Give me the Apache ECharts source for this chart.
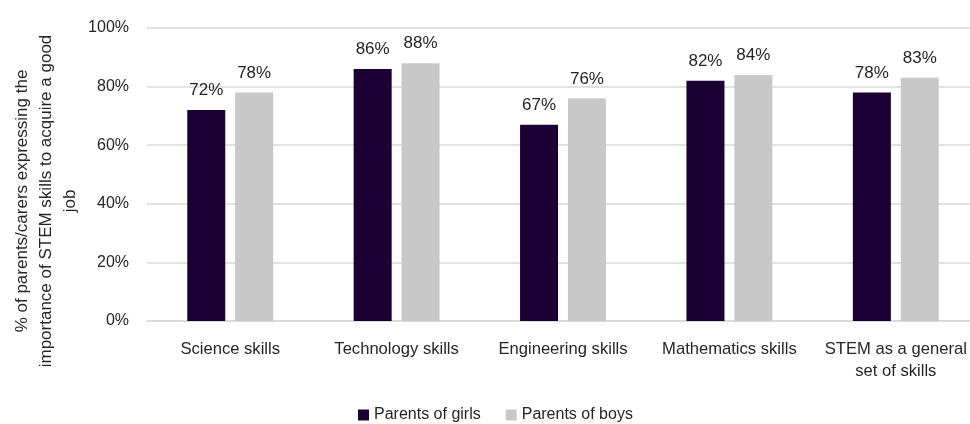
<!DOCTYPE html>
<html>
<head>
<meta charset="utf-8">
<script src="https://cdn.jsdelivr.net/npm/echarts@6/dist/echarts.min.js"></script>
<style>
  html, body { margin: 0; padding: 0; background: #ffffff; overflow: hidden; }
  #wrap { width: 970px; height: 424px; overflow: hidden; }
  /* plot runs slightly past the right edge of the view */
  #chart { width: 980px; height: 424px; }
</style>
</head>
<body>
<div id="wrap"><div id="chart"></div></div>
<script>
// Share of parents/carers who say each STEM skill matters for getting a good job
const categories = ['Science skills', 'Technology skills', 'Engineering skills', 'Mathematics skills', 'STEM as a general\nset of skills'];
const girlsValues = [72, 86, 67, 82, 78];
const boysValues = [78, 88, 76, 84, 83];
const seriesNames = ['Parents of girls', 'Parents of boys'];
const yTicks = [0, 20, 40, 60, 80, 100];
const yTitle = '% of parents/carers expressing the\nimportance of STEM skills to acquire a good\njob';

const FONT = "'Liberation Sans', Arial, sans-serif";
const TEXT = '#262626';

const chart = echarts.init(document.getElementById('chart'), null, { renderer: 'canvas' });

const labelStyle = {
  show: true,
  position: 'top',
  distance: 11,
  formatter: p => p.value + '%',
  color: TEXT,
  fontFamily: FONT,
  fontSize: 17
};

chart.setOption({
  animation: false,
  backgroundColor: '#ffffff',
  grid: { left: 147, top: 28, width: 832, height: 293, containLabel: false },
  legend: {
    data: seriesNames,
    top: 402,
    left: 353,
    itemWidth: 11,
    itemHeight: 11,
    itemGap: 25,
    icon: 'rect',
    textStyle: { color: TEXT, fontFamily: FONT, fontSize: 16 }
  },
  xAxis: {
    type: 'category',
    data: categories,
    axisLine: { show: true, lineStyle: { color: '#d9d9d9', width: 1.5 } },
    axisTick: { show: false },
    axisLabel: {
      color: TEXT,
      fontFamily: FONT,
      fontSize: 16.6,
      margin: 17,
      lineHeight: 22,
      interval: 0
    }
  },
  yAxis: {
    type: 'value',
    min: yTicks[0],
    max: yTicks[yTicks.length - 1],
    interval: 20,
    axisLine: { show: false },
    axisTick: { show: false },
    splitLine: { lineStyle: { color: '#d9d9d9', width: 1.5 } },
    axisLabel: {
      color: TEXT,
      fontFamily: FONT,
      fontSize: 16,
      margin: 18,
      formatter: v => v + '%'
    }
  },
  graphic: [{
    type: 'text',
    x: 46,
    y: 201,
    rotation: Math.PI / 2,
    style: {
      x: 0,
      y: 0,
      text: yTitle,
      fill: TEXT,
      fontFamily: FONT,
      fontSize: 17,
      lineHeight: 24,
      align: 'center',
      verticalAlign: 'middle'
    }
  }],
  series: [
    {
      name: seriesNames[0],
      type: 'bar',
      data: girlsValues,
      barWidth: 38,
      barGap: '26%',
      itemStyle: { color: '#1a0033' },
      label: labelStyle
    },
    {
      name: seriesNames[1],
      type: 'bar',
      data: boysValues,
      barWidth: 38,
      itemStyle: { color: '#c8c8c8' },
      label: labelStyle
    }
  ]
});
</script>
</body>
</html>
